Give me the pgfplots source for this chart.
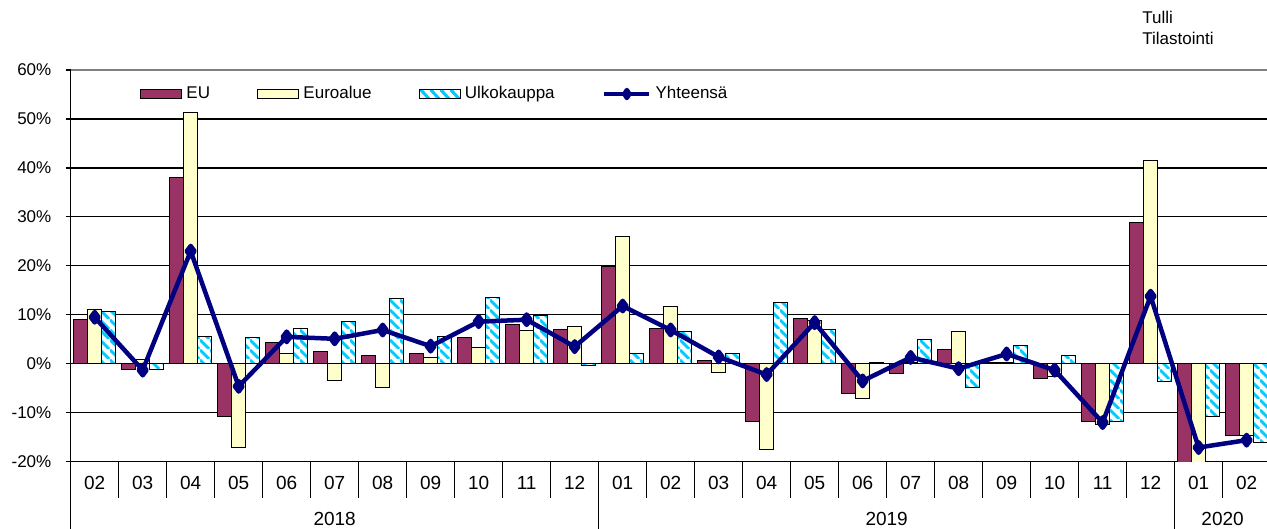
\documentclass[border=0pt]{standalone}
\usepackage{fontspec}
\setmainfont{Liberation Sans}
\usepackage{pgfplots}
\pgfplotsset{compat=1.18}
\usetikzlibrary{patterns}
\pgfdeclarepatternformonly{ulkostripes}{\pgfqpoint{0pt}{0pt}}{\pgfqpoint{5pt}{5pt}}{\pgfqpoint{5pt}{5pt}}{%
  \pgfsetlinewidth{1.5pt}%
  \pgfpathmoveto{\pgfqpoint{0pt}{5pt}}\pgfpathlineto{\pgfqpoint{5pt}{0pt}}%
  \pgfusepath{stroke}}
\definecolor{eu}{RGB}{153,51,102}
\definecolor{euro}{RGB}{255,255,204}
\definecolor{ulko}{RGB}{0,204,255}
\definecolor{yht}{RGB}{0,0,128}

\pgfplotstableread{
x EU Euro Ulko Yht
0 9.0 11.0 10.6 9.5
1 -1.1 0.9 -1.1 -1.3
2 38.0 51.4 5.6 23.0
3 -10.7 -17.1 5.3 -4.6
4 4.3 2.2 7.3 5.5
5 2.6 -3.4 8.6 5.1
6 1.6 -4.8 13.3 6.9
7 2.2 1.2 5.6 3.6
8 5.3 3.3 13.6 8.6
9 8.0 6.7 9.9 9.0
10 7.0 7.6 -0.3 3.5
11 19.9 25.9 2.2 11.8
12 7.3 11.6 6.5 6.9
13 0.7 -1.8 2.2 1.4
14 -11.7 -17.6 12.6 -2.2
15 9.3 8.9 7.0 8.4
16 -6.0 -7.1 0.3 -3.5
17 -2.0 0.2 5.0 1.3
18 2.9 6.5 -4.8 -1.0
19 0.3 0.3 3.7 2.0
20 -3.1 -2.7 1.6 -1.3
21 -11.7 -12.4 -11.7 -12.0
22 28.9 41.6 -3.7 13.8
23 -22.0 -21.0 -10.7 -17.1
24 -14.7 -14.7 -16.1 -15.6
}\datatable

\begin{document}
\begin{tikzpicture}
\useasboundingbox (0,0) rectangle (633.5pt,-264.5pt);
\begin{axis}[
  at={(35.35pt,-230.85pt)}, anchor=south west,
  scale only axis, width=599.95pt, height=195.85pt,
  xmin=-0.5, xmax=24.5, ymin=-20, ymax=60,
  axis x line*=bottom, axis y line*=left,
  axis line style={-, black, line width=0.7pt},
  ytick={-20,-10,...,50},
  extra y ticks={60},
  extra y tick style={grid style={gray, line width=1.2pt}},
  ymajorgrids,
  grid style={black, line width=0.6pt},
  /pgf/number format/assume math mode=true,
  yticklabel={\pgfmathprintnumber{\tick}\%},
  yticklabel style={font=\fontsize{8.5}{10}\selectfont, anchor=east, inner sep=0pt, xshift=-7pt},
  xtick={0,...,24},
  xticklabels={02,03,04,05,06,07,08,09,10,11,12,01,02,03,04,05,06,07,08,09,10,11,12,01,02},
  xticklabel style={font=\fontsize{9.5}{11}\selectfont, anchor=center, inner sep=0pt, yshift=-8pt},
  minor xtick={-0.5,0.5,...,24.5},
  tick align=outside,
  major tick length=2.5pt,
  minor tick length=18pt,
  major x tick style={draw=none},
  tick style={black, line width=0.6pt},
  legend columns=4,
  legend style={at={(0.0578,0.9387)}, anchor=west, draw=none, fill=none,
    font=\fontsize{8.5}{10}\selectfont, inner sep=0pt,
    /tikz/every even column/.append style={column sep=21.7pt}},
  legend cell align=left,
]
\addplot[ybar, bar width=7pt, bar shift=-7pt, fill=eu, draw=black, line width=0.5pt,
  legend image code/.code={\draw[fill=eu, draw=black, line width=0.5pt] (0pt,-2.25pt) rectangle (20.5pt,2.25pt);}]
  table[x=x, y=EU] {\datatable};
\addlegendentry{EU}
\addplot[ybar, bar width=7pt, bar shift=0pt, fill=euro, draw=black, line width=0.5pt,
  legend image code/.code={\draw[fill=euro, draw=black, line width=0.5pt] (0pt,-2.25pt) rectangle (20.5pt,2.25pt);}]
  table[x=x, y=Euro] {\datatable};
\addlegendentry{Euroalue}
\addplot[ybar, bar width=7pt, bar shift=7pt, fill=white, draw=black, line width=0.5pt,
  postaction={pattern=ulkostripes, pattern color=ulko},
  legend image code/.code={\draw[fill=white, draw=black, line width=0.5pt, postaction={pattern=ulkostripes, pattern color=ulko}] (0pt,-2.25pt) rectangle (20.5pt,2.25pt);}]
  table[x=x, y=Ulko] {\datatable};
\addlegendentry{Ulkokauppa}
\addplot[sharp plot, color=yht, line width=2.25pt, line join=round, mark=diamond*, mark size=2.6pt, mark options={solid},
  legend image code/.code={\draw[color=yht, line width=2.25pt] (0pt,0pt) -- (22.5pt,0pt); \fill[yht] (11.25pt,2pt) -- (12.5pt,0pt) -- (11.25pt,-2pt) -- (10pt,0pt) -- cycle;}]
  table[x=x, y=Yht] {\datatable};
\addlegendentry{Yhteensä}
\coordinate (s0) at (axis cs:-0.5,-20);
\coordinate (s1) at (axis cs:10.5,-20);
\coordinate (s2) at (axis cs:22.5,-20);
\coordinate (y1) at (axis cs:5,-20);
\coordinate (y2) at (axis cs:16.5,-20);
\coordinate (y3) at (axis cs:23.5,-20);
\end{axis}
\foreach \s in {s0,s1,s2} {\draw[black, line width=0.7pt] (\s) -- ++(0,-34pt);}
\foreach \y/\t in {y1/2018,y2/2019,y3/2020} {\node[font=\fontsize{9.5}{11}\selectfont, anchor=center, inner sep=0pt] at ([yshift=-28.65pt]\y) {\t};}
\node[anchor=base west, inner sep=0pt, font=\fontsize{8.5}{10}\selectfont] at (571pt,-11.65pt) {Tulli};
\node[anchor=base west, inner sep=0pt, font=\fontsize{8.5}{10}\selectfont] at (571pt,-22.15pt) {Tilastointi};
\end{tikzpicture}
\end{document}
